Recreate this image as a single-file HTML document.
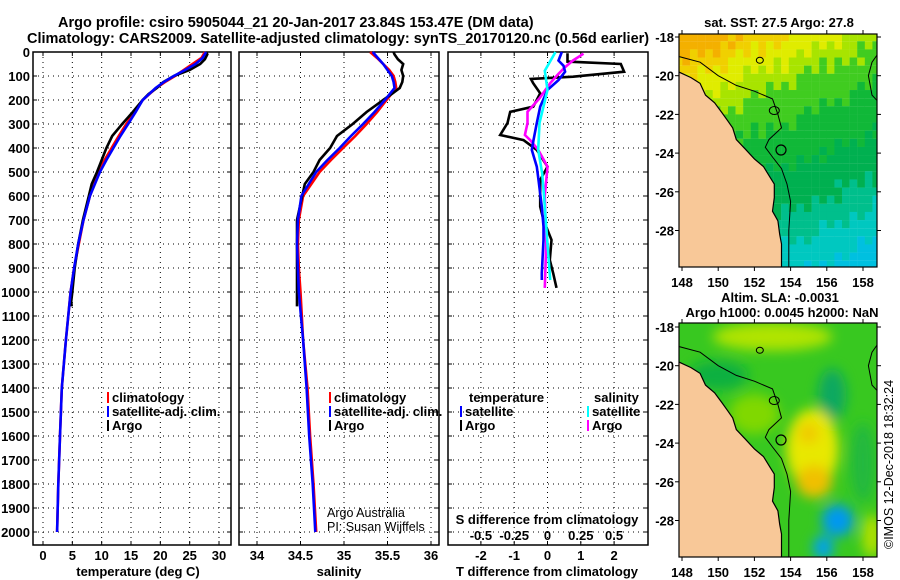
<!DOCTYPE html>
<html><head><meta charset="utf-8"><style>
html,body{margin:0;padding:0;background:#fff;}
svg{display:block;font-family:"Liberation Sans",Arial,sans-serif;}
.t{font-weight:bold;font-size:13px;fill:#000;}
.ttl{font-weight:bold;font-size:14.5px;fill:#000;}
.grid{stroke:#000;stroke-width:1;stroke-dasharray:1,4;}
</style></head><body>
<svg id="chart" width="900" height="580" viewBox="0 0 900 580" xmlns="http://www.w3.org/2000/svg">
<defs>
<filter id="blur" x="-20%" y="-20%" width="140%" height="140%"><feGaussianBlur stdDeviation="6"/></filter>
<clipPath id="clipTop"><rect x="679" y="34" width="198" height="233"/></clipPath>
<clipPath id="clipBot"><rect x="679" y="323" width="198" height="234"/></clipPath>
</defs>
<text class="ttl" x="58" y="27">Argo profile: csiro 5905044_21 20-Jan-2017 23.84S 153.47E (DM data)</text>
<text class="ttl" x="27" y="43">Climatology: CARS2009. Satellite-adjusted climatology: synTS_20170120.nc (0.56d earlier)</text>
<g id="layer"></g>
</svg>
<script>
// ---------- data ----------
const clim_depth = [0,25,50,75,100,125,150,200,250,300,350,400,450,500,600,700,800,900,1000,1200,1400,1600,1800,2000];
const clim_temp = [27.6,27,25.5,24,22.5,20.8,19.3,17,15.6,14.2,12.9,11.7,10.5,9.5,8.0,6.9,6.1,5.3,4.7,3.9,3.2,2.9,2.6,2.4];
const sat_temp  = [27.8,27.2,26,24.2,22.3,20.6,19.2,17,15.8,14.5,13.2,12,10.8,9.7,8.0,6.9,6.0,5.3,4.7,3.9,3.2,2.9,2.6,2.4];
const clim_sal  = [35.3,35.38,35.45,35.52,35.57,35.59,35.6,35.49,35.38,35.26,35.13,34.99,34.85,34.72,34.53,34.48,34.47,34.48,34.5,34.53,34.58,34.61,34.65,34.68];
const sat_sal   = [35.33,35.39,35.45,35.5,35.55,35.57,35.58,35.47,35.35,35.22,35.08,34.95,34.81,34.68,34.51,34.47,34.46,34.47,34.48,34.53,34.57,34.6,34.64,34.67];
const argo_depth = [0,10,30,50,75,100,125,150,175,200,250,300,350,400,450,500,550,600,700,800,900,1000,1040,1060];
const argo_temp  = [27.8,28,27.6,26.8,25,22.3,20.5,19.4,18,17,15.3,13.5,11.8,10.8,10,9.2,8.3,7.8,6.8,6.0,5.4,5.0,4.8,4.9];
const argo_sal   = [35.57,35.58,35.62,35.68,35.66,35.68,35.67,35.64,35.55,35.45,35.26,35.1,34.92,34.84,34.72,34.65,34.55,34.52,34.46,34.46,34.46,34.46,34.46,34.46];
// differences
const dT_argo_depth = [5,40,50,82,103,112,130,172,228,249,296,346,367,408,478,533,644,700,783,867,922,983];
const dT_argo = [0.6,0.6,2.2,2.3,0.77,-0.5,-0.43,-0.22,-0.43,-1.12,-1.2,-1.42,-0.72,-0.32,0,-0.22,-0.22,-0.12,0.12,0.07,0.17,0.27];
const dT_sat_depth = [0,36,57,82,117,158,228,296,367,408,478,533,644,728,783,922,950];
const dT_sat = [0.43,0.33,0.48,0.53,0.33,0,-0.22,-0.32,-0.42,-0.47,-0.32,-0.27,-0.17,-0.12,-0.12,-0.17,-0.17];
const dS_argo_depth = [7,36,64,92,130,193,249,296,346,367,408,478,600,800,983];
const dS_argo = [0.27,0.19,0.13,0.08,0.02,-0.06,-0.15,-0.15,-0.17,-0.13,-0.07,0,-0.02,-0.01,-0.02];
const dS_sat_depth = [0,78,158,296,408,506,644,800,950];
const dS_sat = [0.06,-0.02,0,-0.06,-0.07,-0.04,-0.02,0,0.02];
const depth_ticks = [0,100,200,300,400,500,600,700,800,900,1000,1100,1200,1300,1400,1500,1600,1700,1800,1900,2000];
const temp_ticks = [0,5,10,15,20,25,30];
const sal_ticks = [34,34.5,35,35.5,36];
const dT_ticks = [-2,-1,0,1,2];
const dS_ticks = [-0.5,-0.25,0,0.25,0.5];
const map_lon_ticks = [148,150,152,154,156,158];
const map_lat_ticks = [-18,-20,-22,-24,-26,-28];
const argo_lon = 153.47, argo_lat = -23.84;
const coast_lon = [147.8,148.5,149,149.3,149.8,150.2,150.5,150.8,151.0,151.5,152.0,152.5,152.9,153.1,153.1,153.0,153.3,153.4,153.5,153.5,147.8];
const coast_lat = [-19.8,-20.1,-20.4,-21.0,-21.4,-21.9,-22.3,-22.7,-23.3,-23.8,-24.3,-24.7,-25.3,-25.6,-26.3,-27.0,-27.5,-28.2,-28.7,-29.9,-29.9];
const shelf_lon = [147.8,149,150,151,152,153,153.3,153.5,152.8,152.6,153,153.5,153.8,154,153.9,153.9];
const shelf_lat = [-19.0,-19.3,-20.0,-20.5,-20.8,-21.2,-22,-22.7,-23.3,-23.7,-24.2,-24.8,-25.6,-26.5,-28,-29.9];
const reef_lon = [159.1,158.5,158.3,158.5,158.8,159.1];
const reef_lat = [-21.6,-21.0,-20.0,-19.3,-18.9,-18.9];

// ---------- helpers ----------
const NS="http://www.w3.org/2000/svg";
const layer=document.getElementById('layer');
function mk(tag,attrs,parent){const e=document.createElementNS(NS,tag);for(const k in attrs)e.setAttribute(k,attrs[k]);(parent||layer).appendChild(e);return e;}
function txt(x,y,s,cls,anchor,parent){const e=mk('text',{x:x,y:y,class:cls||'t','text-anchor':anchor||'start'},parent);e.textContent=s;return e;}
const Y0=52, YS=0.24;
function dy(d){return Y0+d*YS;}
const PT=545;
function tX(v){return 43+v*5.867;}
function sX(v){return 257+(v-34)*87;}
function dTX(v){return 547.5+v*33.3;}
function dSX(v){return 547.5+v*133.2;}
function line(xs,ds,fx,color,name,w){
  const pts=xs.map((v,i)=>fx(v).toFixed(1)+','+dy(ds[i]).toFixed(1)).join(' ');
  const e=mk('polyline',{points:pts,fill:'none',stroke:color,'stroke-width':w||2.6,'stroke-linejoin':'miter'});
  
  
  return e;
}
function panel(x0,x1,name,vgrid){
  const g=mk('g',{});
  
  
  depth_ticks.forEach(d=>{mk('line',{x1:x0,x2:x1,y1:dy(d),y2:dy(d),class:'grid'},g);
    mk('line',{x1:x0,x2:x0+4,y1:dy(d),y2:dy(d),stroke:'#000'},g);mk('line',{x1:x1-4,x2:x1,y1:dy(d),y2:dy(d),stroke:'#000'},g);});
  vgrid.forEach(x=>{mk('line',{x1:x,x2:x,y1:Y0,y2:PT,class:'grid'},g);
    mk('line',{x1:x,x2:x,y1:PT-4,y2:PT,stroke:'#000'},g);mk('line',{x1:x,x2:x,y1:Y0,y2:Y0+4,stroke:'#000'},g);});
  mk('rect',{x:x0,y:Y0,width:x1-x0,height:PT-Y0,fill:'none',stroke:'#000','stroke-width':1.5},g);
  return g;
}
// ---------- temperature panel ----------
panel(33,231,'temperature-panel',temp_ticks.map(tX));
depth_ticks.forEach(d=>{const e=txt(30,dy(d)+5,String(d),'t','end');});
temp_ticks.forEach(v=>{const e=txt(tX(v),560,String(v),'t','middle');});
let e=txt(138,576,'temperature (deg C)','t','middle');
line(clim_temp,clim_depth,tX,'#ff0000','temp-climatology-line');
line(argo_temp,argo_depth,tX,'#000000','temp-argo-line');
line(sat_temp,clim_depth,tX,'#0000ff','temp-satellite-line');
// ---------- salinity panel ----------
panel(239,439,'salinity-panel',sal_ticks.map(sX));
sal_ticks.forEach(v=>{const e=txt(sX(v),560,String(v),'t','middle');});
e=txt(339,576,'salinity','t','middle');
line(clim_sal,clim_depth,sX,'#ff0000','sal-climatology-line');
line(argo_sal,argo_depth,sX,'#000000','sal-argo-line');
line(sat_sal,clim_depth,sX,'#0000ff','sal-satellite-line');
function legend(x,y,items,name){
  const g=mk('g',{});
  
  
  items.forEach((it,i)=>{mk('rect',{x:x,y:y+i*14-10,width:2,height:11,fill:it[0]},g);txt(x+5,y+i*14,it[1],'t','start',g);});
}
legend(107,402,[['#ff0000','climatology'],['#0000ff','satellite-adj. clim.'],['#000','Argo']],'temp-legend');
legend(329,402,[['#ff0000','climatology'],['#0000ff','satellite-adj. clim.'],['#000','Argo']],'sal-legend');
e=txt(327,517,'Argo Australia','t','start');e.setAttribute('style','font-weight:normal;font-size:12.5px');
e=txt(327,531,'PI: Susan Wijffels','t','start');e.setAttribute('style','font-weight:normal;font-size:12.5px');
// ---------- difference panel ----------
panel(448,648,'difference-panel',dT_ticks.map(dTX));
line(dT_argo,dT_argo_depth,dTX,'#000000','dT-argo-line');
line(dS_argo,dS_argo_depth,dSX,'#ff00ff','dS-argo-line');
line(dT_sat,dT_sat_depth,dTX,'#0000ff','dT-satellite-line');
line(dS_sat,dS_sat_depth,dSX,'#00ffff','dS-satellite-line');
e=txt(469,402,'temperature','t','start');


legend(460,416,[['#0000ff','satellite'],['#000','Argo']],'dT-legend');
e=txt(594,402,'salinity','t','start');


legend(587,416,[['#00ffff','satellite'],['#ff00ff','Argo']],'dS-legend');
e=txt(547,524,'S difference from climatology','t','middle');
dS_ticks.forEach(v=>{const e=txt(dSX(v),540,String(v),'t','middle');});
dT_ticks.forEach(v=>{const e=txt(dTX(v),560,String(v),'t','middle');});
e=txt(547,576,'T difference from climatology','t','middle');

// ---------- maps ----------
function lonX(l){return 682+(l-148)*18.1;}
function drawMap(top,yLat0,name,clip,kind){
  const g=mk('g',{});
  
  
  const latY=l=>yLat0+(-18-l)*19.35;
  const inner=mk('g',{'clip-path':'url(#'+clip+')'},g);
  if(kind==='sst'){
    for(let lon=147.6;lon<159.2;lon+=0.42){
      for(let lat=-17.8;lat>-30.2;lat-=0.42){
        const s=(-lat-18)/12+(lon-148)/11*0.35+(Math.sin(lon*7.3+lat*3.1)*0.04);
        let c;
        if(s<0.08)c='#f4b000';else if(s<0.16)c='#f0d000';else if(s<0.26)c='#e0ec00';else if(s<0.36)c='#a8e400';
        else if(s<0.52)c='#40cc20';else if(s<0.72)c='#10b838';else if(s<0.92)c='#00b050';else if(s<1.05)c='#00bf8c';else if(s<1.2)c='#00c8c0';else c='#00c0e0';
        mk('rect',{x:lonX(lon),y:latY(lat),width:7.8,height:8.2,fill:c},inner);
      }
    }
  } else {
    mk('rect',{x:679,y:top,width:198,height:234,fill:'#38c820'},inner);
    const b=mk('g',{filter:'url(#blur)'},inner);
    mk('ellipse',{cx:lonX(153),cy:latY(-18.5),rx:60,ry:14,fill:'#b0e400'},b);
    mk('ellipse',{cx:lonX(156.3),cy:latY(-21.5),rx:14,ry:26,fill:'#10a860'},b);
    mk('ellipse',{cx:lonX(152),cy:latY(-22.5),rx:25,ry:20,fill:'#80d800'},b);
    mk('ellipse',{cx:lonX(155.2),cy:latY(-24.3),rx:26,ry:40,fill:'#e8e800'},b);
    mk('ellipse',{cx:lonX(155.3),cy:latY(-26),rx:18,ry:16,fill:'#f0c000'},b);
    mk('ellipse',{cx:lonX(155),cy:latY(-23.5),rx:10,ry:10,fill:'#f0c800'},b);
    mk('ellipse',{cx:lonX(158),cy:latY(-25),rx:12,ry:40,fill:'#20b840'},b);
    mk('ellipse',{cx:lonX(156.6),cy:latY(-28),rx:16,ry:16,fill:'#0098f0'},b);
    mk('ellipse',{cx:lonX(155.8),cy:latY(-29.4),rx:10,ry:12,fill:'#00a0f0'},b);
    mk('ellipse',{cx:lonX(158.5),cy:latY(-28.8),rx:10,ry:22,fill:'#b0e000'},b);
    mk('ellipse',{cx:lonX(150),cy:latY(-20.5),rx:30,ry:15,fill:'#10b040'},b);
  }
  const land=coast_lon.map((l,i)=>lonX(l).toFixed(1)+','+latY(coast_lat[i]).toFixed(1)).join(' ');
  const lp=mk('polygon',{points:land,fill:'#f8c898',stroke:'#000','stroke-width':1.2},inner);
  
  
  mk('polyline',{points:shelf_lon.map((l,i)=>lonX(l).toFixed(1)+','+latY(shelf_lat[i]).toFixed(1)).join(' '),fill:'none',stroke:'#000','stroke-width':1},inner);
  mk('polyline',{points:reef_lon.map((l,i)=>lonX(l).toFixed(1)+','+latY(reef_lat[i]).toFixed(1)).join(' '),fill:'none',stroke:'#000','stroke-width':1},inner);
  mk('ellipse',{cx:lonX(153.1),cy:latY(-21.8),rx:5,ry:4,fill:'none',stroke:'#000'},inner);
  mk('ellipse',{cx:lonX(152.3),cy:latY(-19.2),rx:3.5,ry:3,fill:'none',stroke:'#000'},inner);
  const pc=mk('circle',{cx:lonX(argo_lon),cy:latY(argo_lat),r:5,fill:'none',stroke:'#000','stroke-width':1.2},inner);
  
  
  const h=(name==='sst-map'?233:234);
  mk('rect',{x:679,y:top,width:198,height:h,fill:'none',stroke:'#000','stroke-width':1.2},g);
  const bottom=top+h;
  map_lon_ticks.forEach(l=>{mk('line',{x1:lonX(l),x2:lonX(l),y1:bottom,y2:bottom+4,stroke:'#000'},g);mk('line',{x1:lonX(l),x2:lonX(l),y1:top,y2:top-4,stroke:'#000'},g);
    const t=txt(lonX(l),bottom+20,String(l),'t','middle',g);});
  map_lat_ticks.forEach(l=>{mk('line',{x1:675,x2:679,y1:latY(l),y2:latY(l),stroke:'#000'},g);mk('line',{x1:877,x2:881,y1:latY(l),y2:latY(l),stroke:'#000'},g);
    const t=txt(674,latY(l)+5,String(l),'t','end',g);});
}
drawMap(34,37,'sst-map','clipTop','sst');
drawMap(323,327,'sla-map','clipBot','sla');
e=txt(779,27,'sat. SST: 27.5 Argo: 27.8','t','middle');
e=txt(780,302,'Altim. SLA: -0.0031','t','middle');
e=txt(782,317,'Argo h1000: 0.0045 h2000: NaN','t','middle');
e=txt(0,0,'©IMOS 12-Dec-2018 18:32:24','t','start');
e.setAttribute('transform','translate(893,549) rotate(-90)');
e.setAttribute('style','font-weight:normal;font-size:12.5px');


</script>
</body></html>
